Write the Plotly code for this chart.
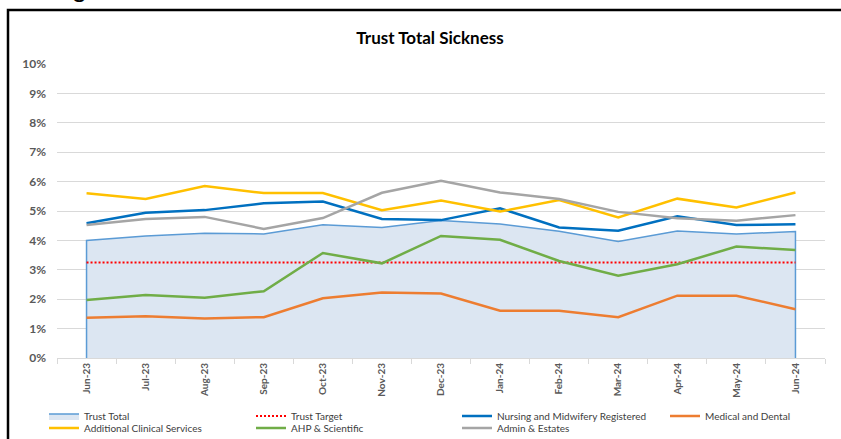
import plotly.graph_objects as go

# Monthly sickness absence rates (%) by staff group
months = ["Jun-23", "Jul-23", "Aug-23", "Sep-23", "Oct-23", "Nov-23", "Dec-23",
          "Jan-24", "Feb-24", "Mar-24", "Apr-24", "May-24", "Jun-24"]

trust_total = [4.00, 4.15, 4.24, 4.22, 4.53, 4.44, 4.68, 4.56, 4.31, 3.96, 4.32, 4.22, 4.30]
trust_target = [3.25] * len(months)
nursing = [4.58, 4.94, 5.03, 5.26, 5.32, 4.73, 4.69, 5.09, 4.44, 4.33, 4.82, 4.52, 4.55]
medical = [1.37, 1.42, 1.34, 1.39, 2.03, 2.23, 2.19, 1.61, 1.61, 1.39, 2.12, 2.12, 1.66]
additional = [5.60, 5.41, 5.85, 5.61, 5.61, 5.03, 5.36, 4.98, 5.37, 4.78, 5.42, 5.12, 5.63]
ahp = [1.97, 2.14, 2.05, 2.27, 3.57, 3.22, 4.15, 4.02, 3.30, 2.80, 3.19, 3.79, 3.67]
admin = [4.52, 4.73, 4.80, 4.39, 4.76, 5.62, 6.03, 5.63, 5.41, 4.97, 4.75, 4.67, 4.86]

y_ticks = list(range(0, 11))
y_tick_text = [f"{v}%" for v in y_ticks]

FONT = "Lato"
GREY = "#595959"

W, H = 841, 439
L, R, T, B = 57, 16, 64, 81
pw, ph = W - L - R, H - T - B


def px_x(x):
    return (x - L) / pw


def px_y(y):
    return (H - B - y) / ph


# Legend grid: four columns, two rows (pixel positions of each key)
legend_cols = [40, 247, 453, 661]
legend_rows = [416, 428]
legend_slots = [(0, 0), (1, 0), (2, 0), (3, 0), (0, 1), (1, 1), (2, 1)]

fig = go.Figure()

# Trust total drawn as a closed outlined area down to zero
fig.add_trace(go.Scatter(
    x=[months[0]] + months + [months[-1]],
    y=[0] + trust_total + [0],
    mode="lines", fill="toself",
    fillcolor="#dce6f2",
    line=dict(color="#5b9bd5", width=1.5),
    name="Trust Total",
))
fig.add_trace(go.Scatter(
    x=months, y=trust_target, mode="lines",
    line=dict(color="#ff0000", width=2, dash="2px,2px"),
    name="Trust Target",
))

series = [
    ("Nursing and Midwifery Registered", nursing, "#0070c0"),
    ("Medical and Dental", medical, "#ed7d31"),
    ("Additional Clinical Services", additional, "#ffc000"),
    ("AHP & Scientific", ahp, "#70ad47"),
    ("Admin & Estates", admin, "#a5a5a5"),
]
for name, vals, col in series:
    fig.add_trace(go.Scatter(
        x=months, y=vals, mode="lines",
        line=dict(color=col, width=2.5),
        name=name,
    ))

legend_layout = {}
for i, (trace, (c, r)) in enumerate(zip(fig.data, legend_slots)):
    key = "legend" if i == 0 else f"legend{i + 1}"
    trace.legend = key
    legend_layout[key] = dict(
        x=(legend_cols[c] + 4) / W, y=1 - legend_rows[r] / H,
        xref="container", yref="container",
        xanchor="left", yanchor="middle", orientation="h",
        font=dict(family=FONT, size=10, color="#404040"),
        bgcolor="rgba(0,0,0,0)", itemclick=False, itemdoubleclick=False,
    )

fig.update_layout(
    width=W, height=H,
    margin=dict(l=L, r=R, t=T, b=B, autoexpand=False),
    paper_bgcolor="white", plot_bgcolor="white",
    title=dict(
        text="<b>Trust Total Sickness</b>",
        x=px_x(430), xref="paper", xanchor="center",
        y=1 - 38 / H, yref="container", yanchor="middle",
        font=dict(family=FONT, size=17, color="#000000"),
    ),
    xaxis=dict(
        type="category", range=[-0.5, len(months) - 0.5],
        tickangle=-90, tickfont=dict(family=FONT, size=10, color=GREY, weight="bold"),
        ticks="outside", tickson="boundaries", ticklen=5, tickcolor="#d9d9d9",
        showline=True, linecolor="#d9d9d9", linewidth=1,
        showgrid=False, fixedrange=True,
    ),
    yaxis=dict(
        range=[0, 10], tickvals=y_ticks, ticktext=y_tick_text,
        tickfont=dict(family=FONT, size=12, color=GREY, weight="bold"),
        showgrid=True, gridcolor="#d9d9d9", gridwidth=1,
        zeroline=False, showline=False, ticks="", ticklabelstandoff=10,
        fixedrange=True,
    ),
    showlegend=True,
    **legend_layout,
)

# Outer chart frame
fig.add_shape(type="rect", xref="paper", yref="paper",
              x0=px_x(8), x1=px_x(850), y0=px_y(450), y1=px_y(10),
              line=dict(color="#000000", width=2.5), fillcolor="rgba(0,0,0,0)",
              layer="below")

# Heading text sitting above the chart frame
fig.add_annotation(text="of Target", xref="paper", yref="paper",
                   x=px_x(0), y=px_y(4), xanchor="left", yanchor="bottom",
                   showarrow=False,
                   font=dict(family="Liberation Sans", size=28, color="#000000"))

fig.write_html("out.html")
